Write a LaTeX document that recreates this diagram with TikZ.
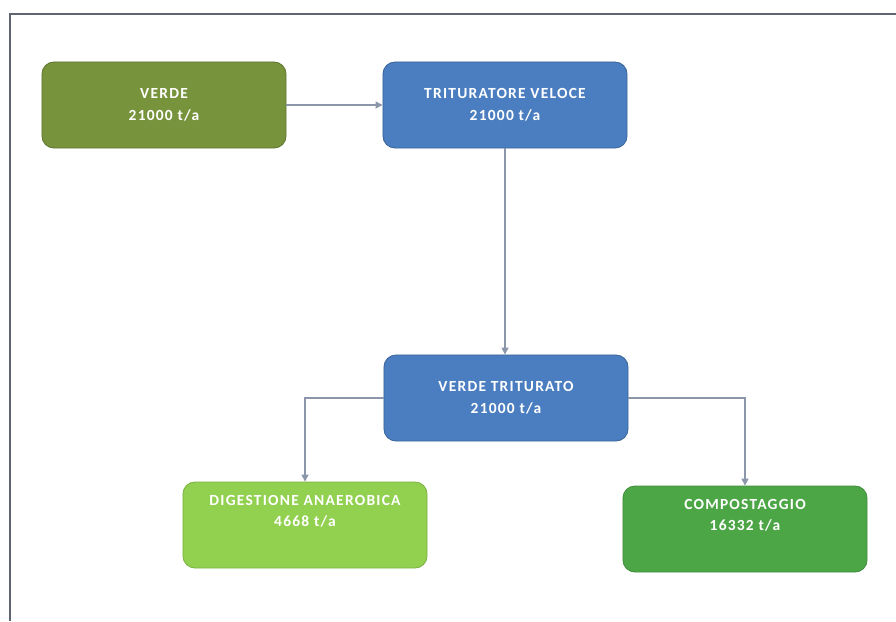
\documentclass[tikz,border=0pt]{standalone}
\usepackage{fontspec}
\setmainfont{Carlito}
\newfontfamily\boxfont[LetterSpace=8]{Carlito}
\usetikzlibrary{arrows.meta,positioning}
\definecolor{olivegreen}{RGB}{119,147,60}
\definecolor{boxblue}{RGB}{74,126,192}
\definecolor{lightgreen}{RGB}{146,208,80}
\definecolor{midgreen}{RGB}{76,166,70}
\definecolor{flowgray}{RGB}{140,150,170}
\definecolor{framegray}{RGB}{95,100,110}
\begin{document}
\begin{tikzpicture}[x=0.025cm,y=-0.025cm]

			\tikzstyle{stage}=[draw=black!40,line width=0.6pt,
				rounded corners=0.3cm,
				minimum width=6.1cm,minimum height=2.15cm,
				text=white,align=center,
				font=\boxfont\fontsize{11}{15.5}\selectfont\bfseries]
			\tikzstyle{flow}=[draw=flowgray,line width=1.1pt,
				-{Triangle[width=5pt,length=5pt]}]

			\useasboundingbox (0,0) rectangle (896,621);
			\draw[framegray,line width=1.6pt] (10,621) -- (10,14) -- (896,14);

			\node[stage,fill=olivegreen,draw=olivegreen!80!black]	(verde)	at (164,105)	{VERDE\\21000 t/a};
			\node[stage,fill=boxblue,draw=boxblue!80!black]		(trit)	at (505,105)	{TRITURATORE VELOCE\\21000 t/a};
			\node[stage,fill=boxblue,draw=boxblue!80!black]		(vtrit)	at (506,398)	{VERDE TRITURATO\\21000 t/a};
			\node[stage,fill=lightgreen,draw=lightgreen!85!black,text depth=0.7cm]	(dig)	at (305,525)	{DIGESTIONE ANAEROBICA\\4668 t/a};
			\node[stage,fill=midgreen,draw=midgreen!85!black,text depth=0.7cm]	(comp)	at (745,529)	{COMPOSTAGGIO\\16332 t/a};

			\draw[flow] (verde) -- (trit);
			\draw[flow] (trit.south) -- (trit.south |- vtrit.north);
			\draw[flow] (vtrit.west) -| (dig.north);
			\draw[flow] (vtrit.east) -| (comp.north);

\end{tikzpicture}
\end{document}
